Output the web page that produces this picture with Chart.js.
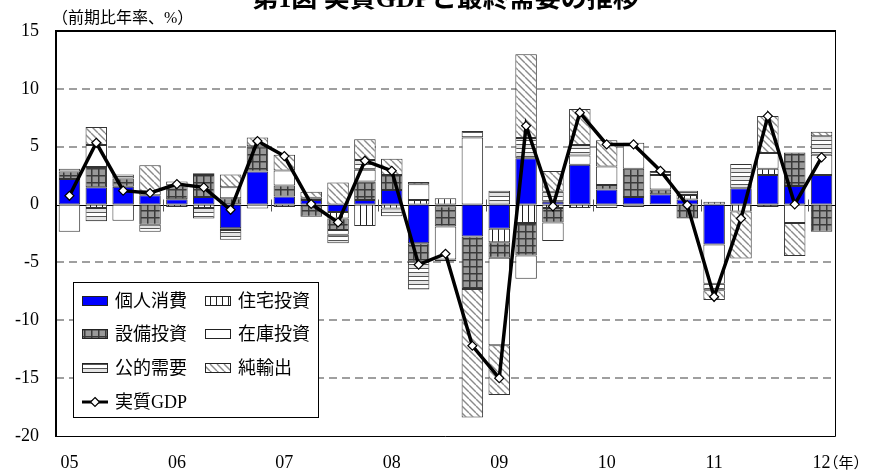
<!DOCTYPE html>
<html>
<head>
<meta charset="utf-8">
<script src="https://cdn.jsdelivr.net/npm/chart.js@4.4.1/dist/chart.umd.min.js"></script>
<style>
  html, body { margin: 0; padding: 0; background: #fff; }
  #wrap { position: relative; width: 873px; height: 476px; }
</style>
</head>
<body>
<div id="wrap"><canvas id="c" width="873" height="476"></canvas></div>
<script>
// Quarterly categories, 2005 Q1 - 2012 Q1
const quarters = [
  '2005Q1','2005Q2','2005Q3','2005Q4',
  '2006Q1','2006Q2','2006Q3','2006Q4',
  '2007Q1','2007Q2','2007Q3','2007Q4',
  '2008Q1','2008Q2','2008Q3','2008Q4',
  '2009Q1','2009Q2','2009Q3','2009Q4',
  '2010Q1','2010Q2','2010Q3','2010Q4',
  '2011Q1','2011Q2','2011Q3','2011Q4',
  '2012Q1'
];
const yearTicks = ['05','06','07','08','09','10','11','12'];
const yTickValues = [15, 10, 5, 0, -5, -10, -15, -20];

const seriesNames = ['個人消費','住宅投資','設備投資','在庫投資','公的需要','純輸出','実質GDP'];

// Contributions (annualised q/q, %pt)
const consumption  = [2.2, 1.5, 1.55, 0.8, 0.45, 0.65, -2.05, 2.85, 0.7, 0.4, -0.65, 0.4, 1.25, -3.35, -0.15, -2.75, -2.1, 4.0, 0.25, 3.45, 1.3, 0.65, 0.9, 0.43, -3.45, 1.4, 2.55, 1.6, 2.55];
const housing      = [0, -0.3, 0, 0, -0.2, -0.3, -0.15, 0, -0.2, -0.1, -0.55, -1.85, -0.35, 0.4, 0.55, 0, -1.15, -1.6, -0.3, -0.3, 0, 0, 0, 0.4, 0.25, -0.6, 0.55, 0, 0];
const capex        = [0.65, 1.75, 0.7, -1.75, 1.2, 1.9, 0.55, 2.2, 0.95, -0.95, -1.0, 1.6, 1.3, -1.6, -1.75, -4.55, -1.35, -2.8, -1.25, 0, 0.4, 2.45, 0.4, -1.2, 0, 0, -0.2, 2.9, -2.35];
const inventory    = [-2.35, 1.9, -1.4, 0.35, 0, 0, 0.95, -0.35, 1.3, 0, -0.4, 1.0, 0, 1.35, -2.85, 5.8, -7.55, -2.0, -1.6, 0.8, 1.6, 2.25, 1.25, 0, -3.4, 0, 1.35, -1.6, 1.75];
const publicDemand = [0.25, -1.15, 0.35, -0.6, 0.35, -0.9, -0.85, 0, 0, 0.2, -0.75, 0.85, -0.65, -2.4, -0.15, 0.55, 1.2, 1.75, 0.85, 0.9, -0.3, -0.2, 0.35, 0.37, -0.55, 2.1, 0, 0, 1.6];
const netExports   = [0, 1.55, 0, 2.25, 0, 0.15, 1.1, 0.75, 1.35, 0.5, 1.9, 1.8, 1.4, 0.2, 0, -11.1, -4.3, 7.25, 1.8, 3.1, 2.25, 0, 0, 0, -0.85, -4.05, 3.2, -2.85, 0.4];
const realGDP      = [0.76, 5.34, 1.2, 1.0, 1.77, 1.49, -0.45, 5.49, 4.19, 0.05, -1.54, 3.79, 2.92, -5.2, -4.25, -12.2, -15.0, 6.81, -0.15, 7.94, 5.2, 5.2, 2.92, -0.04, -7.97, -1.2, 7.65, 0.02, 4.08];

const SERIF = '"Liberation Serif", "Noto Sans CJK JP", serif';
const JP = '"Liberation Serif", "Noto Sans CJK JP", sans-serif';

// ---- fill patterns ----
function tile(w, h, paint) {
  const c = document.createElement('canvas');
  c.width = w; c.height = h;
  const g = c.getContext('2d');
  paint(g, w, h);
  return g.createPattern(c, 'repeat');
}
const fillConsumption = '#0000ff';
const fillHousing = tile(6, 6, (g, w, h) => {
  g.fillStyle = '#fff'; g.fillRect(0, 0, w, h);
  g.fillStyle = '#222'; g.fillRect(0, 0, 1, h);
});
const fillCapex = tile(7, 7, (g, w, h) => {
  g.fillStyle = '#999'; g.fillRect(0, 0, w, h);
  g.fillStyle = '#3a3a3a'; g.fillRect(0, 0, w, 1.5); g.fillRect(0, 0, 1.5, h);
});
const fillInventory = '#ffffff';
const fillPublic = tile(8, 8, (g, w, h) => {
  g.fillStyle = '#fff'; g.fillRect(0, 0, w, h);
  g.fillStyle = '#e4e4e4'; g.fillRect(0, 1, w, 3);
  g.fillStyle = '#555'; g.fillRect(0, 0, w, 1); g.fillRect(0, 4, w, 1);
});
const fillNet = tile(7, 7, (g, w, h) => {
  g.fillStyle = '#fff'; g.fillRect(0, 0, w, h);
  g.strokeStyle = '#8a8a8a'; g.lineWidth = 1.4;
  for (const x0 of [-w, 0, w]) {
    g.beginPath(); g.moveTo(x0, 0); g.lineTo(x0 + w, h); g.stroke();
  }
});

const nz = arr => arr.map(v => (v === 0 ? null : v));

function barSet(label, values, fill) {
  return {
    type: 'bar', label, data: nz(values), backgroundColor: fill,
    borderColor: '#333', borderWidth: 1, borderSkipped: false,
    stack: 'demand', order: 2,
    categoryPercentage: 1.0, barPercentage: 0.8
  };
}

const datasets = [
  barSet(seriesNames[0], consumption, fillConsumption),
  barSet(seriesNames[1], housing, fillHousing),
  barSet(seriesNames[2], capex, fillCapex),
  barSet(seriesNames[3], inventory, fillInventory),
  barSet(seriesNames[4], publicDemand, fillPublic),
  barSet(seriesNames[5], netExports, fillNet),
  {
    type: 'line', label: seriesNames[6], data: realGDP, stack: 'gdp', order: 0,
    borderColor: '#000', borderWidth: 3.5, tension: 0,
    pointStyle: 'rectRot', pointRadius: 4.5,
    pointBackgroundColor: '#fff', pointBorderColor: '#000', pointBorderWidth: 1.2
  }
];

// gridlines, zero line and year separators behind the bars
const backdrop = {
  id: 'backdrop',
  beforeDatasetsDraw(chart) {
    const { ctx, chartArea: a, scales: { x, y } } = chart;
    ctx.save();
    ctx.strokeStyle = '#808080';
    ctx.lineWidth = 1.5;
    ctx.setLineDash([8, 5]);
    yTickValues.filter(v => v !== 0 && v !== y.min && v !== y.max).forEach(v => {
      const py = Math.round(y.getPixelForValue(v));
      ctx.beginPath(); ctx.moveTo(a.left, py); ctx.lineTo(a.right, py); ctx.stroke();
    });
    ctx.setLineDash([]);
    const y0 = Math.round(y.getPixelForValue(0)) + 0.5;
    ctx.strokeStyle = '#000'; ctx.lineWidth = 1;
    ctx.beginPath(); ctx.moveTo(a.left, y0); ctx.lineTo(a.right, y0); ctx.stroke();
    ctx.strokeStyle = '#555';
    for (let i = 4; i < quarters.length; i += 4) {
      const px = Math.round((x.getPixelForValue(i - 1) + x.getPixelForValue(i)) / 2) + 0.5;
      ctx.beginPath(); ctx.moveTo(px, y0 - 6); ctx.lineTo(px, y0 + 6); ctx.stroke();
    }
    ctx.restore();
  }
};

// frame, texts and the two-column legend
const overlay = {
  id: 'overlay',
  afterDraw(chart) {
    const { ctx, chartArea: a, scales: { x } } = chart;
    ctx.save();
    // frame
    ctx.strokeStyle = '#000';
    ctx.lineWidth = 1;
    ctx.beginPath();
    ctx.moveTo(a.right + 0.5, a.top); ctx.lineTo(a.right + 0.5, a.bottom + 0.5);
    ctx.lineTo(a.left, a.bottom + 0.5);
    ctx.stroke();
    ctx.lineWidth = 2;
    ctx.beginPath();
    ctx.moveTo(a.left, a.bottom + 1); ctx.lineTo(a.left, a.top); ctx.lineTo(a.right + 1, a.top);
    ctx.stroke();

    // title (top edge of the page)
    ctx.fillStyle = '#000';
    ctx.font = 'bold 26px ' + JP;
    ctx.textAlign = 'center';
    ctx.textBaseline = 'alphabetic';
    ctx.fillText('第1図 実質GDPと最終需要の推移', (a.left + a.right) / 2, 7);

    // unit note
    ctx.font = '16px ' + JP;
    ctx.textAlign = 'left';
    ctx.textBaseline = 'middle';
    ctx.fillText('（前期比年率、%）', 52, 19);

    // year suffix after the last tick
    const lastX = x.getPixelForValue(quarters.length - 1);
    ctx.font = '18px ' + SERIF;
    const w12 = ctx.measureText(yearTicks[yearTicks.length - 1]).width;
    ctx.font = '15px ' + JP;
    ctx.fillText('（年）', lastX + w12 / 2 - 7, 464);

    // legend
    const L = { x: 73, y: 282, w: 245, h: 135 };
    ctx.fillStyle = '#fff';
    ctx.fillRect(L.x, L.y, L.w, L.h);
    ctx.strokeStyle = '#000'; ctx.lineWidth = 1;
    ctx.strokeRect(L.x + 0.5, L.y + 0.5, L.w, L.h);

    const ds = chart.data.datasets;
    const cols = [82, 205];
    const rows = [301, 334, 368, 402];
    const slots = [[0, 0], [1, 0], [0, 1], [1, 1], [0, 2], [1, 2]];
    ctx.font = '18px ' + JP;
    ctx.textBaseline = 'middle';
    ctx.textAlign = 'left';
    slots.forEach(([c, r], i) => {
      const bx = cols[c], by = rows[r] - 5;
      ctx.fillStyle = ds[i].backgroundColor;
      ctx.fillRect(bx, by, 26, 10);
      ctx.strokeStyle = '#222';
      ctx.strokeRect(bx + 0.5, by + 0.5, 25, 9);
      ctx.fillStyle = '#000';
      ctx.fillText(ds[i].label, bx + 33, rows[r] + 1);
    });
    // GDP line key
    const gy = rows[3];
    ctx.strokeStyle = '#000'; ctx.lineWidth = 3;
    ctx.beginPath(); ctx.moveTo(cols[0], gy); ctx.lineTo(cols[0] + 26, gy); ctx.stroke();
    ctx.lineWidth = 1.2; ctx.fillStyle = '#fff';
    const cx = cols[0] + 13;
    ctx.beginPath();
    ctx.moveTo(cx, gy - 4.5); ctx.lineTo(cx + 4.5, gy); ctx.lineTo(cx, gy + 4.5); ctx.lineTo(cx - 4.5, gy);
    ctx.closePath(); ctx.fill(); ctx.stroke();
    ctx.fillStyle = '#000';
    ctx.fillText(ds[6].label, cols[0] + 33, gy + 1);
    ctx.restore();
  }
};

new Chart(document.getElementById('c'), {
  data: { labels: quarters, datasets },
  options: {
    responsive: false,
    animation: false,
    devicePixelRatio: 1,
    events: [],
    layout: { padding: { top: 31, right: 38, left: 0, bottom: 0 } },
    plugins: { legend: { display: false }, tooltip: { enabled: false }, title: { display: false } },
    scales: {
      x: {
        type: 'category',
        stacked: true,
        offset: true,
        grid: { display: false, drawTicks: false },
        border: { display: false },
        ticks: {
          autoSkip: false, maxRotation: 0, minRotation: 0, padding: 16,
          color: '#000', font: { family: SERIF, size: 18 },
          callback: (v, i) => (i % 4 === 0 ? yearTicks[i / 4] : '')
        },
        afterFit: s => { s.height = 40; }
      },
      y: {
        stacked: true,
        min: -20, max: 15,
        grid: { display: false, drawTicks: false },
        border: { display: false },
        ticks: {
          stepSize: 5, padding: 17, color: '#000',
          font: { family: SERIF, size: 18 }
        },
        afterFit: s => { s.width = 56; }
      }
    }
  },
  plugins: [backdrop, overlay]
});
</script>
</body>
</html>
